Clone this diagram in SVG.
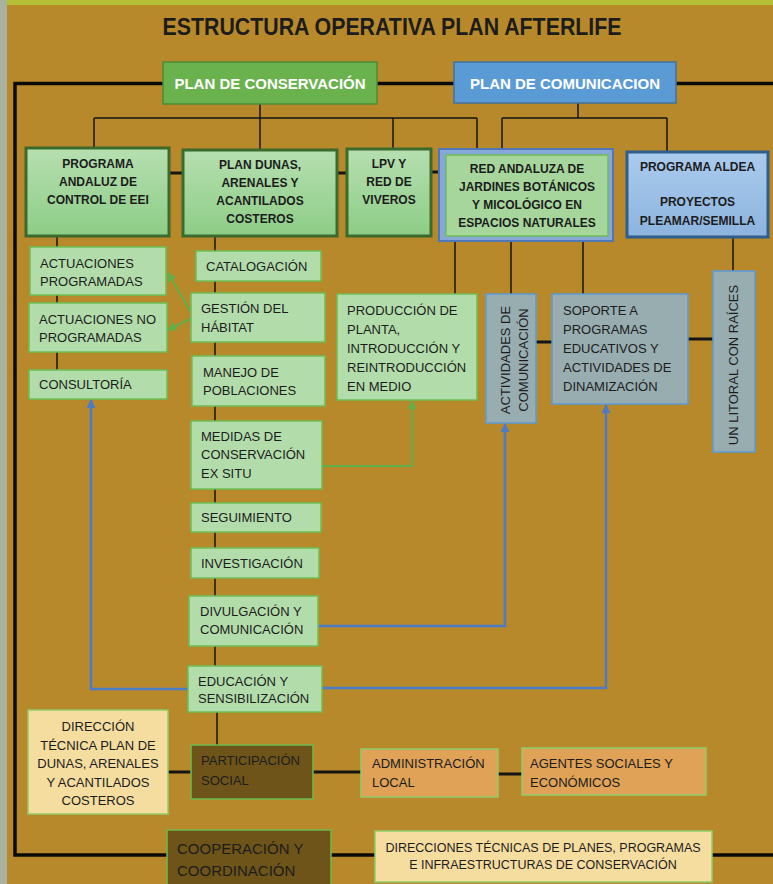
<svg xmlns="http://www.w3.org/2000/svg" width="773" height="884" viewBox="0 0 773 884">
<style>
  text { font-family: "Liberation Sans", Arial, sans-serif; fill: #1c1c1c; }
  .t13 { font-size: 13px; }
  .b12 { font-size: 12px; font-weight: bold; }
  .c { text-anchor: middle; }
  .lg { fill: #b3dcab; stroke: #6cbf55; stroke-width: 1.5; }
  .dg { fill: url(#gGreen); stroke: #3b6a2c; stroke-width: 3; }
  .gb { fill: #98adb0; stroke: #5b9bd5; stroke-width: 1.5; }
  .yl { fill: #f5dc9f; stroke: #8fcc6a; stroke-width: 1.5; }
  .br { fill: #6e5419; stroke: #6dbb4c; stroke-width: 1.5; }
  .or { fill: #dfa257; stroke: #8fcc6a; stroke-width: 1.5; }
  .thin { fill: none; stroke: #141414; stroke-width: 1.5; }
  .thick { fill: none; stroke: #0a0a0a; stroke-width: 3.5; }
  .mid { fill: none; stroke: #141414; stroke-width: 3; }
  .blue { fill: none; stroke: #4a7cc8; stroke-width: 2.5; }
  .green { fill: none; stroke: #5fb04a; stroke-width: 2; }
</style>
<defs>
  <linearGradient id="gGreen" x1="0" y1="0" x2="0" y2="1">
    <stop offset="0" stop-color="#b6dfb0"/>
    <stop offset="1" stop-color="#8dcd87"/>
  </linearGradient>
  <linearGradient id="gBlue" x1="0" y1="0" x2="0" y2="1">
    <stop offset="0" stop-color="#abcbee"/>
    <stop offset="1" stop-color="#8cb4de"/>
  </linearGradient>
  <marker id="aBlue" viewBox="0 0 10 10" refX="9" refY="5" markerWidth="9" markerHeight="9" markerUnits="userSpaceOnUse" orient="auto">
    <path d="M0,0 L10,5 L0,10 z" fill="#4a7cc8"/>
  </marker>
  <marker id="aGreen" viewBox="0 0 10 10" refX="9" refY="5" markerWidth="9" markerHeight="9" markerUnits="userSpaceOnUse" orient="auto">
    <path d="M0,0 L10,5 L0,10 z" fill="#5fb04a"/>
  </marker>
</defs>

<rect x="0" y="0" width="773" height="884" fill="#b8892a"/>
<rect x="0" y="0" width="7" height="884" fill="#a9b29f"/>
<rect x="7" y="0" width="766" height="5" fill="#b4bf35"/>

<text x="392" y="35" class="c" font-size="24" font-weight="bold" textLength="459" lengthAdjust="spacingAndGlyphs" fill="#111">ESTRUCTURA OPERATIVA PLAN AFTERLIFE</text>

<g id="connectors">
  <path class="thick" d="M773,83.5 H15 V855 H773"/>
  <path class="thin" d="M260,104 V118 M94,118 H477 M94,118 V148 M260,118 V150 M393,118 V149 M477,118 V149"/>
  <path class="thin" d="M578,103 V118 M502,118 H667 M502,118 V149 M667,118 V152"/>
  <path class="thin" d="M455,241 V294 M511,241 V294 M583,241 V294 M733,237 V271"/>
  <path class="thin" d="M57,236 V370 M215,236 V666 M217,712 V745"/>
  <path class="mid" d="M169,173 H183 M337,173 H347 M431,172 H439"/>
  <path class="mid" d="M536,342 H552 M688,339 H713"/>
  <path class="mid" d="M168,772 H191 M313,772 H361 M498,774 H522"/>
  <path class="green" d="M190,311 L168,273" marker-end="url(#aGreen)"/>
  <path class="green" d="M190,319 L168,330" marker-end="url(#aGreen)"/>
  <path class="green" d="M322,466 H412 V401" marker-end="url(#aGreen)"/>
  <path class="blue" d="M188,689 H91 V400" marker-end="url(#aBlue)"/>
  <path class="blue" d="M318,626 H505 V424" marker-end="url(#aBlue)"/>
  <path class="blue" d="M322,688 H606 V405" marker-end="url(#aBlue)"/>
</g>

<g id="plan-conservacion">
  <rect x="163" y="62" width="214" height="42" fill="#6ab24e" stroke="#4d8b38" stroke-width="1.5"/>
  <text x="270" y="89" class="c" font-size="15" font-weight="bold" fill="#ffffff" style="fill:#ffffff">PLAN DE CONSERVACIÓN</text>
</g>
<g id="plan-comunicacion">
  <rect x="454" y="62" width="222" height="41" fill="#5b9bd5" stroke="#41719c" stroke-width="1.5"/>
  <text x="565" y="89" class="c" font-size="15" font-weight="bold" style="fill:#ffffff">PLAN DE COMUNICACION</text>
</g>

<g id="programa-andaluz">
  <rect x="26" y="148" width="143" height="88" class="dg"/>
  <text class="b12 c"><tspan x="98" y="168">PROGRAMA</tspan><tspan x="98" y="186">ANDALUZ DE</tspan><tspan x="98" y="204">CONTROL DE EEI</tspan></text>
</g>
<g id="plan-dunas">
  <rect x="183" y="150" width="154" height="86" class="dg"/>
  <text class="b12 c"><tspan x="260" y="169">PLAN DUNAS,</tspan><tspan x="260" y="187">ARENALES Y</tspan><tspan x="260" y="205">ACANTILADOS</tspan><tspan x="260" y="223">COSTEROS</tspan></text>
</g>
<g id="lpv">
  <rect x="347" y="149" width="84" height="87" class="dg"/>
  <text class="b12 c"><tspan x="389" y="168">LPV Y</tspan><tspan x="389" y="186">RED DE</tspan><tspan x="389" y="204">VIVEROS</tspan></text>
</g>
<g id="red-andaluza">
  <rect x="439" y="149" width="174" height="92" fill="#87a7d9" stroke="#4f78b8" stroke-width="2"/>
  <rect x="446" y="155" width="162" height="81" fill="#a6d69b" stroke="#6cbf55" stroke-width="1.5"/>
  <text class="b12 c"><tspan x="527" y="173">RED ANDALUZA DE</tspan><tspan x="527" y="191">JARDINES BOTÁNICOS</tspan><tspan x="527" y="209">Y MICOLÓGICO EN</tspan><tspan x="527" y="227">ESPACIOS NATURALES</tspan></text>
</g>
<g id="programa-aldea">
  <rect x="627" y="152" width="141" height="85" fill="url(#gBlue)" stroke="#2f5d8c" stroke-width="3"/>
  <text class="b12 c"><tspan x="697.5" y="171">PROGRAMA ALDEA</tspan><tspan x="697.5" y="206">PROYECTOS</tspan><tspan x="697.5" y="225">PLEAMAR/SEMILLA</tspan></text>
</g>

<g id="actuaciones-programadas">
  <rect x="30" y="247" width="136" height="48" class="lg"/>
  <text class="t13"><tspan x="40" y="267.5">ACTUACIONES</tspan><tspan x="40" y="285.5">PROGRAMADAS</tspan></text>
</g>
<g id="actuaciones-no-programadas">
  <rect x="29" y="303" width="138" height="49" class="lg"/>
  <text class="t13"><tspan x="39" y="323.5">ACTUACIONES NO</tspan><tspan x="39" y="341.5">PROGRAMADAS</tspan></text>
</g>
<g id="consultoria">
  <rect x="29" y="370" width="138" height="29" class="lg"/>
  <text class="t13" x="39" y="388.5">CONSULTORÍA</text>
</g>

<g id="catalogacion">
  <rect x="196" y="251" width="125" height="30" class="lg"/>
  <text class="t13" x="206" y="270.5">CATALOGACIÓN</text>
</g>
<g id="gestion-habitat">
  <rect x="191" y="293" width="134" height="49" class="lg"/>
  <text class="t13"><tspan x="201" y="312.5">GESTIÓN DEL</tspan><tspan x="201" y="331.5">HÁBITAT</tspan></text>
</g>
<g id="manejo-poblaciones">
  <rect x="192" y="356" width="133" height="50" class="lg"/>
  <text class="t13"><tspan x="203" y="376.5">MANEJO DE</tspan><tspan x="203" y="394.5">POBLACIONES</tspan></text>
</g>
<g id="medidas-ex-situ">
  <rect x="191" y="421" width="131" height="68" class="lg"/>
  <text class="t13"><tspan x="201" y="440.5">MEDIDAS DE</tspan><tspan x="201" y="458.5">CONSERVACIÓN</tspan><tspan x="201" y="477.5">EX SITU</tspan></text>
</g>
<g id="seguimiento">
  <rect x="191" y="503" width="130" height="29" class="lg"/>
  <text class="t13" x="201" y="521.5">SEGUIMIENTO</text>
</g>
<g id="investigacion">
  <rect x="191" y="548" width="128" height="30" class="lg"/>
  <text class="t13" x="201" y="567.5">INVESTIGACIÓN</text>
</g>
<g id="divulgacion">
  <rect x="189" y="596" width="129" height="50" class="lg"/>
  <text class="t13"><tspan x="200" y="615.5">DIVULGACIÓN Y</tspan><tspan x="200" y="633.5">COMUNICACIÓN</tspan></text>
</g>
<g id="educacion">
  <rect x="188" y="666" width="134" height="46" class="lg"/>
  <text class="t13"><tspan x="198" y="685.5">EDUCACIÓN Y</tspan><tspan x="198" y="703">SENSIBILIZACIÓN</tspan></text>
</g>

<g id="produccion-planta">
  <rect x="337" y="294" width="140" height="106" class="lg"/>
  <text class="t13"><tspan x="347" y="314.5">PRODUCCIÓN DE</tspan><tspan x="347" y="333.5">PLANTA,</tspan><tspan x="347" y="352.5">INTRODUCCIÓN Y</tspan><tspan x="347" y="371.5">REINTRODUCCIÓN</tspan><tspan x="347" y="390.5">EN MEDIO</tspan></text>
</g>
<g id="actividades-comunicacion">
  <rect x="486" y="294" width="50" height="129" class="gb"/>
  <text class="t13 c" transform="translate(509.5,360) rotate(-90)" x="0" y="0">ACTIVIDADES DE</text>
  <text class="t13 c" transform="translate(528,360) rotate(-90)" x="0" y="0">COMUNICACIÓN</text>
</g>
<g id="soporte-programas">
  <rect x="552" y="294" width="136" height="110" class="gb"/>
  <text class="t13"><tspan x="563" y="314.5">SOPORTE A</tspan><tspan x="563" y="333.5">PROGRAMAS</tspan><tspan x="563" y="352.5">EDUCATIVOS Y</tspan><tspan x="563" y="371.5">ACTIVIDADES DE</tspan><tspan x="563" y="390.5">DINAMIZACIÓN</tspan></text>
</g>
<g id="un-litoral">
  <rect x="713" y="271" width="42" height="181" class="gb"/>
  <text class="t13 c" transform="translate(738,365) rotate(-90)" x="0" y="0">UN LITORAL CON RAÍCES</text>
</g>

<g id="direccion-tecnica">
  <rect x="28" y="710" width="140" height="104" class="yl"/>
  <text class="t13 c"><tspan x="98" y="731">DIRECCIÓN</tspan><tspan x="98" y="749.5">TÉCNICA PLAN DE</tspan><tspan x="98" y="768">DUNAS, ARENALES</tspan><tspan x="98" y="786.5">Y ACANTILADOS</tspan><tspan x="98" y="805">COSTEROS</tspan></text>
</g>
<g id="participacion-social">
  <rect x="191" y="745" width="122" height="54" class="br"/>
  <text class="t13"><tspan x="201" y="764.5">PARTICIPACIÓN</tspan><tspan x="201" y="784.5">SOCIAL</tspan></text>
</g>
<g id="administracion-local">
  <rect x="361" y="749" width="137" height="48" class="or"/>
  <text class="t13"><tspan x="372" y="767.5">ADMINISTRACIÓN</tspan><tspan x="372" y="786.5">LOCAL</tspan></text>
</g>
<g id="agentes-sociales">
  <rect x="522" y="748" width="184" height="47" class="or"/>
  <text class="t13"><tspan x="530" y="767.5">AGENTES SOCIALES Y</tspan><tspan x="530" y="786.5">ECONÓMICOS</tspan></text>
</g>
<g id="cooperacion">
  <rect x="167" y="830" width="164" height="60" class="br"/>
  <text font-size="15"><tspan x="177" y="853.5">COOPERACIÓN Y</tspan><tspan x="177" y="875.5">COORDINACIÓN</tspan></text>
</g>
<g id="direcciones-tecnicas">
  <rect x="375" y="831" width="337" height="51" class="yl"/>
  <text class="c" font-size="12.5"><tspan x="543" y="851.5">DIRECCIONES TÉCNICAS DE PLANES, PROGRAMAS</tspan><tspan x="543" y="868.5">E INFRAESTRUCTURAS DE CONSERVACIÓN</tspan></text>
</g>
</svg>
